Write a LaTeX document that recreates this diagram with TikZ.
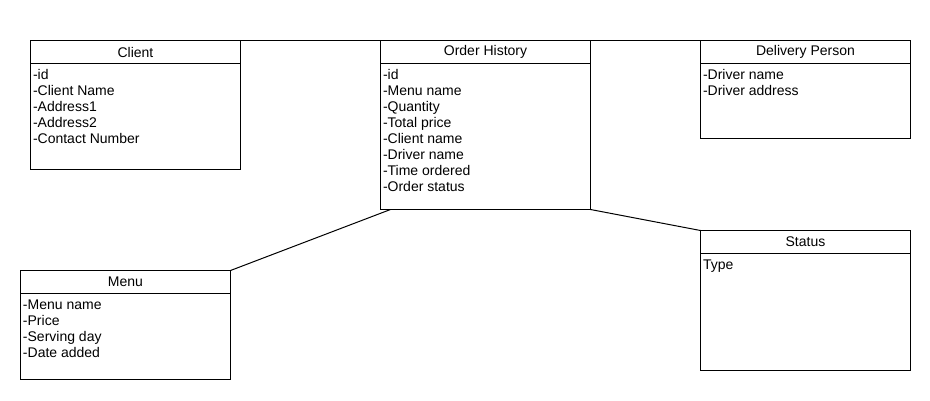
\documentclass[tikz,border=0pt]{standalone}
\usepackage{fontspec}
\setmainfont{Liberation Sans}
\usetikzlibrary{calc}
\tikzset{
  hdr/.style={draw, line width=1pt, rectangle, inner sep=0pt, outer sep=0pt, minimum width=210pt, minimum height=23pt, font=\fontsize{14}{16}\selectfont},
  bdy/.style={draw, line width=1pt, rectangle, inner sep=0pt, outer sep=0pt, minimum width=210pt},
  txt/.style={inner sep=0pt, outer sep=0pt, align=left, font=\fontsize{14}{16}\selectfont},
  link/.style={draw, line width=1pt}
}
\newcommand\umlclass[6]{%
  \node[hdr, anchor=north west] (#1h) at (#2,#3) {\raisebox{-2pt}{#5}};
  \node[bdy, anchor=north west, minimum height=#4] (#1b) at (#1h.south west) {};
  \node[txt, anchor=north west] (#1t) at ($(#1b.north west)+(2.5,4.6)$) {\strut #6};
}
\begin{document}
\begin{tikzpicture}[x=1pt,y=-1pt]
\useasboundingbox (0,0) rectangle (930,400);
\umlclass{client}{30.5}{40.5}{106pt}{Client}{-id\\-Client Name\\-Address1\\-Address2\\-Contact Number}
\umlclass{order}{380.5}{40.5}{146pt}{Order History}{-id\\-Menu name\\-Quantity\\-Total price\\-Client name\\-Driver name\\-Time ordered\\-Order status}
\umlclass{driver}{700.5}{40.5}{75pt}{Delivery Person}{-Driver name\\-Driver address}
\umlclass{status}{700.5}{230.5}{117pt}{Status}{Type}
\umlclass{menu}{20.5}{270.5}{86pt}{Menu}{-Menu name\\-Price\\-Serving day\\-Date added}
\draw[link] (clienth.north east) -- (orderh.north west);
\draw[link] (orderh.north east) -- (driverh.north west);
\draw[link] ($(orderb.south west)+(10,0)$) -- (menuh.north east);
\draw[link] (orderb.south east) -- (statush.north west);
\end{tikzpicture}
\end{document}
